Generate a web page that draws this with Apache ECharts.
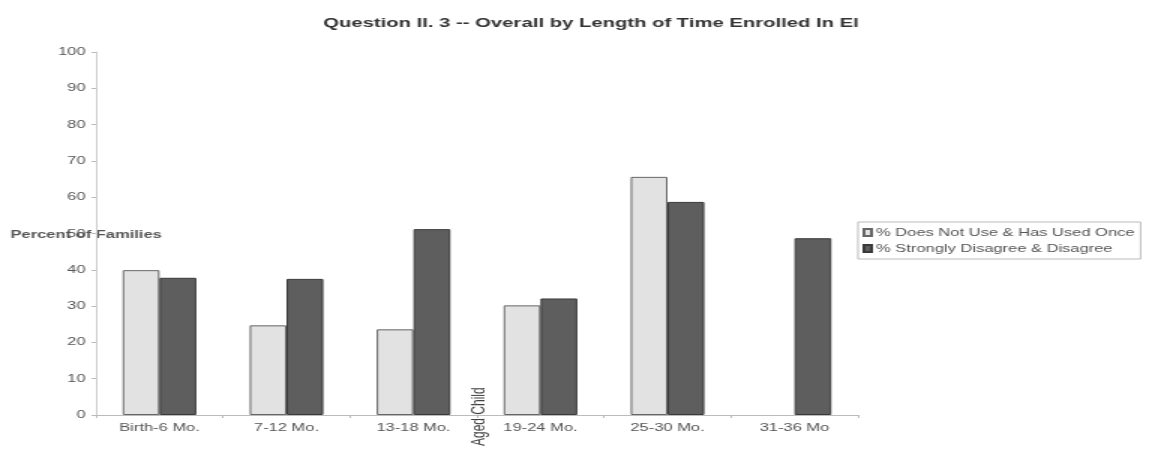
<!DOCTYPE html>
<html><head><meta charset="utf-8">
<script src="https://cdn.jsdelivr.net/npm/echarts@6/dist/echarts.min.js"></script>
<style>
html,body{margin:0;padding:0;background:#fff;overflow:hidden;width:1162px;height:463px}
#c{width:775px;height:463px;transform:scaleX(1.5);transform-origin:0 0}
</style>
</head><body><div id="c"></div>
<script>
const categories = ['Birth-6 Mo.', '7-12 Mo.', '13-18 Mo.', '19-24 Mo.', '25-30 Mo.', '31-36 Mo'];
const seriesNames = ['% Does Not Use & Has Used Once', '% Strongly Disagree & Disagree'];
const doesNotUse = [39.9, 24.7, 23.6, 30.2, 65.6, null];
const disagree = [37.8, 37.5, 51.2, 32.1, 58.7, 48.7];
const yTicks = [0, 10, 20, 30, 40, 50, 60, 70, 80, 90, 100];

const chart = echarts.init(document.getElementById('c'));
const fontFam = 'Liberation Sans';
chart.setOption({
  animation: false,
  backgroundColor: '#fff',
  title: {
    text: 'Question II. 3 -- Overall by Length of Time Enrolled In El',
    left: 389, top: 11, textAlign: 'center',
    textStyle: {fontFamily: fontFam, fontSize: 13.5, fontWeight: 'bold', color: '#333'}
  },
  legend: {
    orient: 'vertical', left: 572, top: 222,
    data: seriesNames,
    icon: 'rect',
    itemWidth: 5, itemHeight: 7, itemGap: 5,
    padding: [5, 4, 5, 3],
    borderColor: '#bbb', borderWidth: 1,
    textStyle: {fontFamily: fontFam, fontSize: 11, color: '#555', padding: [0, 0, 0, -2]}
  },
  grid: {left: 64, right: 203, top: 52, bottom: 48},
  xAxis: {
    type: 'category', data: categories,
    axisLine: {lineStyle: {color: '#bbb'}},
    axisTick: {show: true, alignWithLabel: false, length: 3, lineStyle: {color: '#bbb'}},
    axisLabel: {fontFamily: fontFam, fontSize: 11, color: '#555', margin: 7}
  },
  yAxis: {
    type: 'value', min: 0, max: 100, interval: 10,
    axisLine: {show: true, lineStyle: {color: '#ccc'}},
    axisTick: {show: true, length: 3, lineStyle: {color: '#bbb'}},
    splitLine: {show: false},
    axisLabel: {fontFamily: fontFam, fontSize: 11, color: '#555', margin: 7,
      formatter: v => yTicks.includes(v) ? String(v) : ''}
  },
  graphic: [
    {type: 'text', left: 7, top: 229, style: {text: 'Percent of Families', font: 'bold 11px "Liberation Sans"', fill: '#555'}},
    {type: 'text', x: 314, y: 446, rotation: Math.PI / 2,
      style: {text: 'Aged Child', font: '12px "Liberation Sans"', fill: '#444'}}
  ],
  series: [
    {name: seriesNames[0], type: 'bar', data: doesNotUse, barGap: '0%', barCategoryGap: '42%',
      itemStyle: {color: '#e2e2e2', borderColor: '#666', borderWidth: 1}},
    {name: seriesNames[1], type: 'bar', data: disagree,
      itemStyle: {color: '#5e5e5e', borderColor: '#3a3a3a', borderWidth: 1}}
  ]
});
</script></body></html>
